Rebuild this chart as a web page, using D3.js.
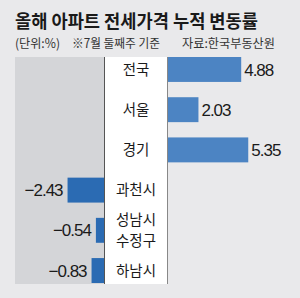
<!DOCTYPE html>
<html>
<head>
<meta charset="utf-8">
<script src="https://cdn.jsdelivr.net/npm/d3@7.9.0/dist/d3.min.js"></script>
<style>
  html, body { margin: 0; padding: 0; background: #e9e9eb; }
  svg { display: block; }
</style>
</head>
<body>
<svg id="chart" width="300" height="298"></svg>
<script>
const regions = ["전국", "서울", "경기", "과천시", "성남시\n수정구", "하남시"];
const values = [4.88, 2.03, 5.35, -2.43, -0.54, -0.83];
const valueLabels = ["4.88", "2.03", "5.35", "−2.43", "−0.54", "−0.83"];

const svg = d3.select("#chart");
const kr = "'Noto Sans CJK KR', 'Noto Sans', sans-serif";
const num = "'Liberation Sans', Arial, sans-serif";

const plotTop = 57, plotBottom = 283;
const negLeft = 15, zeroNeg = 104, zeroPos = 168;

const y = d3.scaleBand()
  .domain(regions)
  .range([plotTop, plotBottom])
  .paddingInner(0.38)
  .paddingOuter(0);

// bar length per unit
const len = d3.scaleLinear().domain([0, 6]).range([0, 90]);

svg.append("rect")
  .attr("width", 300).attr("height", 298)
  .attr("fill", "#e9e9eb");

// title
svg.append("text")
  .attr("x", 15).attr("y", 28)
  .attr("font-family", kr)
  .attr("font-weight", 700)
  .attr("font-size", 18)
  .attr("textLength", 243)
  .attr("lengthAdjust", "spacingAndGlyphs")
  .attr("fill", "#1a1a1a")
  .text("올해 아파트 전세가격 누적 변동률");

const sub = svg.append("g")
  .attr("font-family", kr)
  .attr("font-size", 12.5)
  .attr("fill", "#333");
sub.append("text").attr("x", 15).attr("y", 48)
  .attr("textLength", 45).attr("lengthAdjust", "spacingAndGlyphs")
  .text("(단위:%)");
sub.append("text").attr("x", 72).attr("y", 48)
  .attr("textLength", 88).attr("lengthAdjust", "spacingAndGlyphs")
  .text("※7월 둘째주 기준");
sub.append("text").attr("x", 182).attr("y", 48)
  .attr("textLength", 93).attr("lengthAdjust", "spacingAndGlyphs")
  .text("자료:한국부동산원");

// panels
svg.append("rect")
  .attr("x", negLeft).attr("y", plotTop)
  .attr("width", zeroNeg - negLeft).attr("height", plotBottom - plotTop + 1)
  .attr("fill", "#d4d5d8");
svg.append("rect")
  .attr("x", zeroNeg).attr("y", plotTop)
  .attr("width", zeroPos - zeroNeg).attr("height", plotBottom - plotTop + 1)
  .attr("fill", "#ffffff");
svg.append("line")
  .attr("x1", zeroNeg + 0.5).attr("x2", zeroNeg + 0.5)
  .attr("y1", plotTop).attr("y2", plotBottom + 1)
  .attr("stroke", "#555").attr("stroke-width", 1);
svg.append("line")
  .attr("x1", zeroPos - 0.5).attr("x2", zeroPos - 0.5)
  .attr("y1", plotTop).attr("y2", plotBottom + 1)
  .attr("stroke", "#888").attr("stroke-width", 1);

const rows = regions.map((r, i) => ({ region: r, value: values[i], label: valueLabels[i] }));

svg.selectAll(".bar")
  .data(rows)
  .join("rect")
  .attr("class", "bar")
  .attr("x", d => d.value >= 0 ? zeroPos : zeroNeg - len(-d.value))
  .attr("y", d => y(d.region))
  .attr("width", d => len(Math.abs(d.value)))
  .attr("height", y.bandwidth())
  .attr("fill", d => d.value >= 0 ? "#4c84c3" : "#2b6bb3");

svg.selectAll(".val")
  .data(rows)
  .join("text")
  .attr("class", "val")
  .attr("x", d => d.value >= 0 ? zeroPos + len(d.value) + 3 : zeroNeg - len(-d.value) - 5)
  .attr("y", d => y(d.region) + y.bandwidth() / 2)
  .attr("dy", "0.36em")
  .attr("text-anchor", d => d.value >= 0 ? "start" : "end")
  .attr("font-family", num)
  .attr("font-size", 17)
  .attr("letter-spacing", -1)
  .attr("fill", "#1a1a1a")
  .text(d => d.label);

// region names, one text per line so two-line names stay apart
const lineH = 21;
rows.forEach(d => {
  const lines = d.region.split("\n");
  const cy = y(d.region) + y.bandwidth() / 2;
  lines.forEach((t, j) => {
    svg.append("text")
      .attr("class", "lab")
      .attr("x", (zeroNeg + zeroPos) / 2)
      .attr("y", cy + (j - (lines.length - 1) / 2) * lineH)
      .attr("dy", "0.36em")
      .attr("text-anchor", "middle")
      .attr("font-family", kr)
      .attr("font-size", 14.5)
      .attr("fill", "#1a1a1a")
      .text(t);
  });
});
</script>
</body>
</html>
